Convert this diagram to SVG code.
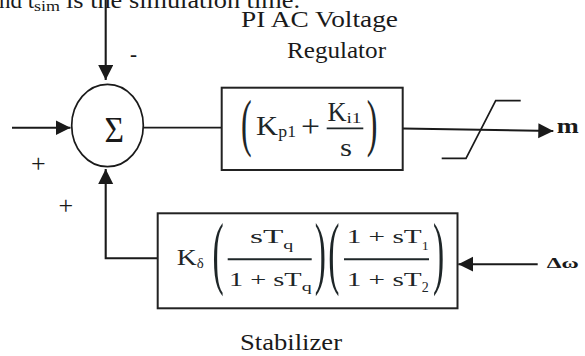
<svg xmlns="http://www.w3.org/2000/svg" width="585" height="356" viewBox="0 0 585 356">
<style>
.ln{stroke:#1a1a1a;stroke-width:2.1;fill:none}
.th{stroke:#1a1a1a;stroke-width:1.7;fill:none}
.box{stroke:#222;stroke-width:2;fill:#fff}
.t{font-family:"Liberation Serif","Times New Roman",serif;fill:#1a1a1a}
.mt{font-family:"Liberation Serif","Times New Roman",serif;fill:#1e2628}
.b{font-weight:bold}
</style>
<defs>
<marker id="ah" markerUnits="userSpaceOnUse" markerWidth="16" markerHeight="16" refX="15" refY="7.5" orient="auto">
<path d="M0,0 L15,7.5 L0,15 z" fill="#1a1a1a"/>
</marker>
</defs>
<rect width="585" height="356" fill="#fff"/>

<g id="caption-top">
<text class="t" x="-1" y="8.3" font-size="23.5" textLength="35" lengthAdjust="spacingAndGlyphs">nd t</text>
<text class="t" x="34" y="11" font-size="15" textLength="26" lengthAdjust="spacingAndGlyphs">sim</text>
<text class="t" x="66" y="8.3" font-size="23.5" textLength="234" lengthAdjust="spacingAndGlyphs">is the simulation time.</text>
</g>

<g id="connectors">
<path class="ln" d="M105.7,0 V80" marker-end="url(#ah)"/>
<path class="ln" d="M12,127.7 H70.5" marker-end="url(#ah)"/>
<path class="th" d="M143.3,127.7 H221.7"/>
<path class="ln" d="M402.7,128.5 L553.3,131" marker-end="url(#ah)"/>
<path class="ln" d="M157.7,258.3 H105.7 V169" marker-end="url(#ah)"/>
<path class="ln" d="M537.7,264.2 H458.3" marker-end="url(#ah)"/>
</g>

<g id="sum">
<ellipse cx="107.5" cy="125.5" rx="35.8" ry="41.2" class="th" stroke-width="1.8"/>
<text class="t" x="104.5" y="141.7" font-size="35" textLength="19.5" lengthAdjust="spacingAndGlyphs">Σ</text>
<text class="t" x="130" y="62" font-size="23.5" textLength="7" lengthAdjust="spacingAndGlyphs">-</text>
<text class="t" x="30.9" y="171.7" font-size="26">+</text>
<text class="t" x="58.5" y="214" font-size="26">+</text>
</g>

<g id="pi-regulator">
<text class="t" x="241" y="26.7" font-size="23.5" textLength="157" lengthAdjust="spacingAndGlyphs">PI AC Voltage</text>
<text class="t" x="287" y="58.3" font-size="23.5" textLength="99" lengthAdjust="spacingAndGlyphs">Regulator</text>
<rect class="box" x="221.7" y="87.7" width="181" height="82.3"/>
<text class="mt" font-size="64" transform="translate(241,143.7) scale(0.5,1)">(</text>
<text class="mt" x="256" y="135" font-size="27" textLength="22" lengthAdjust="spacingAndGlyphs">K</text>
<text class="mt" x="278.3" y="137" font-size="17" textLength="17.7" lengthAdjust="spacingAndGlyphs">p1</text>
<text class="mt" x="301" y="136.5" font-size="32" textLength="19" lengthAdjust="spacingAndGlyphs">+</text>
<text class="mt" x="327.5" y="121" font-size="27" textLength="19" lengthAdjust="spacingAndGlyphs">K</text>
<text class="mt" x="346.5" y="123.3" font-size="15" textLength="15" lengthAdjust="spacingAndGlyphs">i1</text>
<line x1="326.7" y1="128.3" x2="363.3" y2="128.3" stroke="#1e2628" stroke-width="1.8"/>
<text class="mt" x="340" y="156" font-size="25" textLength="12" lengthAdjust="spacingAndGlyphs">s</text>
<text class="mt" font-size="64" transform="translate(366.7,143.7) scale(0.5,1)">)</text>
</g>

<g id="saturation">
<path class="th" d="M441.7,158.3 H466 L495.7,100.7 H520.7"/>
</g>

<g id="output-m">
<text class="t b" x="556.7" y="133.3" font-size="22" textLength="22" lengthAdjust="spacingAndGlyphs">m</text>
</g>

<g id="stabilizer">
<rect class="box" x="157.7" y="213.3" width="299.8" height="95"/>
<text class="mt" x="176.7" y="265" font-size="22.5" textLength="20" lengthAdjust="spacingAndGlyphs">K</text>
<text class="mt" x="196.7" y="268.3" font-size="14" textLength="7" lengthAdjust="spacingAndGlyphs">δ</text>
<text class="mt" font-size="80" transform="translate(212.6,279.2) scale(0.42,1)">(</text>
<text class="mt" x="250" y="243.3" font-size="18" textLength="33.3" lengthAdjust="spacingAndGlyphs">sT</text>
<text class="mt" x="283.3" y="248.5" font-size="13" textLength="10" lengthAdjust="spacingAndGlyphs">q</text>
<line x1="227.7" y1="259.3" x2="311.7" y2="259.3" stroke="#1e2628" stroke-width="1.9"/>
<text class="mt" x="229" y="286" font-size="18" textLength="72.7" lengthAdjust="spacingAndGlyphs">1 + sT</text>
<text class="mt" x="301.7" y="291" font-size="13" textLength="10" lengthAdjust="spacingAndGlyphs">q</text>
<text class="mt" font-size="80" transform="translate(314.8,279.2) scale(0.42,1)">)</text>
<text class="mt" font-size="80" transform="translate(328.2,279.2) scale(0.42,1)">(</text>
<text class="mt" x="346.7" y="243.3" font-size="18" textLength="75" lengthAdjust="spacingAndGlyphs">1 + sT</text>
<text class="mt" x="421.7" y="250" font-size="13" textLength="7" lengthAdjust="spacingAndGlyphs">1</text>
<line x1="344" y1="259.3" x2="429" y2="259.3" stroke="#1e2628" stroke-width="1.9"/>
<text class="mt" x="346.7" y="286" font-size="18" textLength="75" lengthAdjust="spacingAndGlyphs">1 + sT</text>
<text class="mt" x="421.7" y="291.5" font-size="14" textLength="7" lengthAdjust="spacingAndGlyphs">2</text>
<text class="mt" font-size="80" transform="translate(433.1,279.2) scale(0.42,1)">)</text>
<text class="t" x="240" y="350" font-size="23.5" textLength="102" lengthAdjust="spacingAndGlyphs">Stabilizer</text>
</g>

<g id="input-dw">
<text class="t b" x="546.7" y="268.3" font-size="15" textLength="32" lengthAdjust="spacingAndGlyphs">Δω</text>
</g>
</svg>
